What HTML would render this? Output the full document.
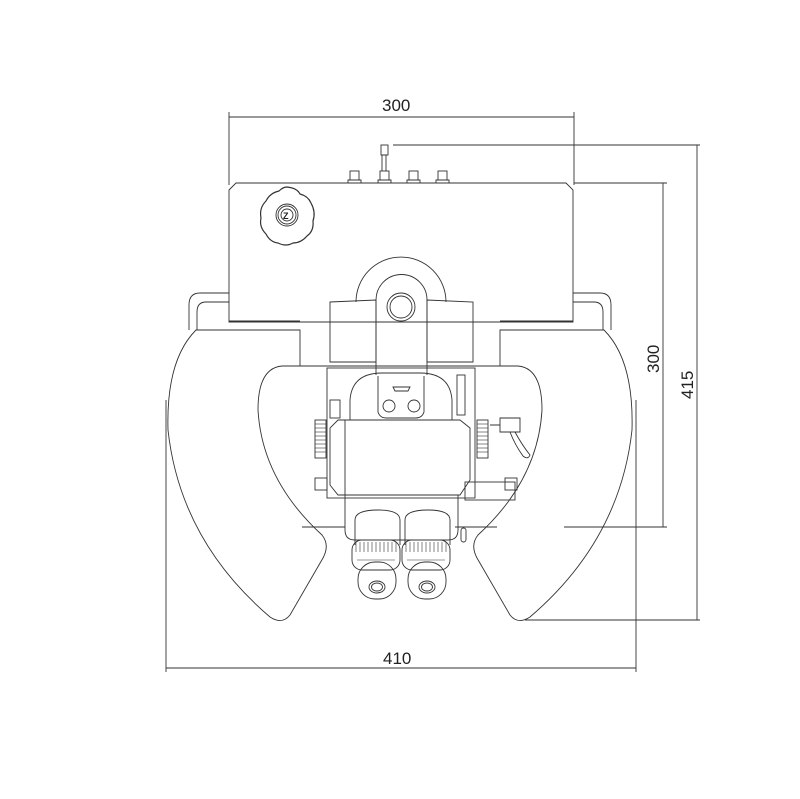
<!DOCTYPE html>
<html><head><meta charset="utf-8"><style>
html,body{margin:0;padding:0;background:#fff;}
svg{display:block;}
text{font-family:"Liberation Sans",sans-serif;font-size:17px;fill:#222;}
</style></head><body>
<svg width="800" height="799" viewBox="0 0 800 799" xmlns="http://www.w3.org/2000/svg">
<g fill="none" stroke="#333" stroke-width="0.9">
<line x1="229" y1="112" x2="229" y2="185"/>
<line x1="574" y1="112" x2="574" y2="185"/>
<line x1="229" y1="117" x2="574" y2="117"/>
<line x1="393" y1="145" x2="700" y2="145"/>
<line x1="574" y1="183" x2="667" y2="183"/>
<line x1="564" y1="527" x2="667" y2="527"/>
<line x1="525" y1="620" x2="700" y2="620"/>
<line x1="663" y1="183" x2="663" y2="527"/>
<line x1="697" y1="145" x2="697" y2="620"/>
<line x1="166" y1="400" x2="166" y2="672"/>
<line x1="636" y1="400" x2="636" y2="672"/>
<line x1="166" y1="668" x2="636" y2="668"/>

<path d="M229,293 L200,293 Q189,293 189,305 L189,330 M229,302 L206,302 Q197,302 197,312 L197,330"/>
<path d="M573,293 L600,293 Q611,293 611,305 L611,330 M573,302 L594,302 Q603,302 603,312 L603,330"/>

<path d="M229,190 L236,183 L566,183 L573,190 L573,322 L229,322 Z"/>
<line x1="229" y1="321" x2="300" y2="321"/>
<line x1="500" y1="321" x2="573" y2="321"/>
<rect x="350" y="171" width="9" height="9"/><path d="M348,183 L348,180 L361,180 L361,183"/>
<rect x="380" y="171" width="9" height="9"/><path d="M378,183 L378,180 L391,180 L391,183"/>
<path d="M382,171 L382,155 L386,155 L386,171"/><rect x="381" y="145" width="7" height="10"/>
<rect x="409" y="171" width="9" height="9"/><path d="M407,183 L407,180 L420,180 L420,183"/>
<rect x="438" y="171" width="9" height="9"/><path d="M436,183 L436,180 L449,180 L449,183"/>
<path d="M287,187 Q297,188 300,194 Q308,196 311,203 Q316,212 313,221 Q314,231 307,236 Q301,243 293,243 Q286,247 278,243 Q270,242 266,234 Q259,227 261,218 Q259,208 266,201 Q270,193 279,191 Q283,187 287,187 Z" stroke-width="1.2"/>
<circle cx="287" cy="215" r="11"/><circle cx="287" cy="215" r="9"/><circle cx="287" cy="215" r="6"/>
<text x="283" y="219" style="font-size:9px;font-weight:bold" stroke="none">Z</text>

<path d="M356,302 A45,45 0 0 1 446,302"/>
<path d="M376,300 A25,25 0 0 1 427,300"/>
<path d="M330,302 L376,300 L376,362 L330,362 Z"/>
<path d="M427,300 L473,302 L473,362 L427,362 Z"/>
<path d="M376,300 L376,375 M427,300 L427,375"/>
<circle cx="401" cy="307" r="14"/><circle cx="401" cy="307" r="11"/>

<path d="M196,330 L300,330 L300,366 L282,366 Q258,368 258,410 Q262,480 322,535 Q330,545 323,558 L290,615 Q282,625 270,617 Q180,540 168,430 Q166,360 196,330 Z"/>
<path d="M604,330 L500,330 L500,366 L518,366 Q542,368 542,410 Q538,480 478,535 Q470,545 477,558 L510,615 Q518,625 530,617 Q620,540 632,430 Q634,360 604,330 Z"/>
<line x1="302" y1="527" x2="345" y2="527"/>
<line x1="455" y1="527" x2="497" y2="527"/>

<rect x="327" y="368" width="148" height="130"/>
<line x1="300" y1="366" x2="500" y2="366"/>
<path d="M350,420 L350,400 Q352,373 382,373 L420,373 Q450,373 452,400 L452,420"/>
<path d="M378,376 L378,412 Q380,418 386,418 L416,418 Q422,418 424,412 L424,376"/>
<path d="M393,387 L410,387 L408,391 L395,391 Z"/>
<circle cx="389" cy="406" r="6"/><circle cx="414" cy="406" r="6"/>
<rect x="330" y="400" width="10" height="18"/>
<rect x="457" y="375" width="8" height="40"/>
<path d="M338,420 L460,420 L470,428 L470,480 L460,495 L338,495 L330,485 L330,428 Z"/>
<line x1="345" y1="420" x2="345" y2="495"/>
<rect x="315" y="420" width="11" height="38"/>
<g stroke-width="0.6">
<line x1="315" y1="424" x2="326" y2="424"/><line x1="315" y1="428" x2="326" y2="428"/><line x1="315" y1="432" x2="326" y2="432"/><line x1="315" y1="436" x2="326" y2="436"/><line x1="315" y1="440" x2="326" y2="440"/><line x1="315" y1="444" x2="326" y2="444"/><line x1="315" y1="448" x2="326" y2="448"/><line x1="315" y1="452" x2="326" y2="452"/>
<line x1="477" y1="424" x2="488" y2="424"/><line x1="477" y1="428" x2="488" y2="428"/><line x1="477" y1="432" x2="488" y2="432"/><line x1="477" y1="436" x2="488" y2="436"/><line x1="477" y1="440" x2="488" y2="440"/><line x1="477" y1="444" x2="488" y2="444"/><line x1="477" y1="448" x2="488" y2="448"/><line x1="477" y1="452" x2="488" y2="452"/>
</g>
<rect x="477" y="420" width="11" height="38"/>
<path d="M490,425 L500,425 L500,418 L520,418 L520,432 L500,432 L500,425"/>
<path d="M515,432 Q522,445 530,455 Q528,460 523,456 Q515,445 510,432"/>
<rect x="315" y="478" width="12" height="12"/>
<rect x="465" y="482" width="50" height="18"/>
<rect x="505" y="478" width="12" height="12"/>
<path d="M345,495 L345,530 Q345,540 355,540 L448,540 Q458,540 458,530 L458,495"/>
<path d="M355,545 L355,520 Q355,510 378,510 Q400,510 400,520 L400,545"/>
<path d="M405,545 L405,520 Q405,510 428,510 Q450,510 450,520 L450,545"/>
<rect x="352" y="540" width="48" height="30" rx="10"/>
<rect x="402" y="540" width="48" height="30" rx="10"/>
<g stroke-width="0.6">
<path d="M356,542 L356,552 M360,542 L360,552 M364,542 L364,552 M368,542 L368,552 M372,542 L372,552 M376,542 L376,552 M380,542 L380,552 M384,542 L384,552 M388,542 L388,552 M392,542 L392,552 M396,542 L396,552"/>
<path d="M406,542 L406,552 M410,542 L410,552 M414,542 L414,552 M418,542 L418,552 M422,542 L422,552 M426,542 L426,552 M430,542 L430,552 M434,542 L434,552 M438,542 L438,552 M442,542 L442,552 M446,542 L446,552"/>
<path d="M357,560 L395,560 M407,560 L445,560"/>
</g>
<rect x="358" y="562" width="38" height="37" rx="17"/>
<rect x="408" y="562" width="38" height="37" rx="17"/>
<ellipse cx="377" cy="587" rx="8" ry="6"/><ellipse cx="377" cy="587" rx="5.5" ry="4"/>
<ellipse cx="427" cy="587" rx="8" ry="6"/><ellipse cx="427" cy="587" rx="5.5" ry="4"/>
<rect x="461" y="528" width="5" height="14" rx="2.5"/>
</g>
<text x="382" y="111">300</text>
<text x="383" y="664">410</text>
<text transform="translate(659,373) rotate(-90)">300</text>
<text transform="translate(693,399) rotate(-90)">415</text>
</svg>
</body></html>
